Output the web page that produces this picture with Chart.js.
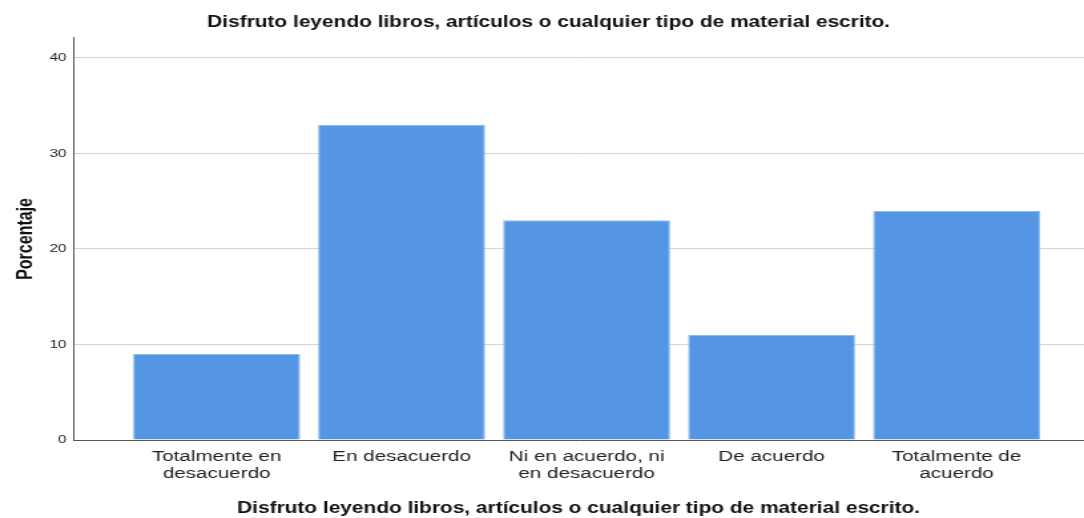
<!DOCTYPE html>
<html>
<head>
<meta charset="utf-8">
<script src="https://cdn.jsdelivr.net/npm/chart.js@4/dist/chart.umd.min.js"></script>
<style>
  html, body { margin: 0; padding: 0; background: #fff; overflow: hidden; }
  /* the reference is a horizontally stretched export, so draw narrow and stretch */
  #wrap { width: 815px; height: 518px; transform: scaleX(1.33006); transform-origin: 0 0; }
  #chart { display: block; }
</style>
</head>
<body>
<div id="wrap"><canvas id="chart" width="815" height="518"></canvas></div>
<script>
// values (percentages)
const categories = [
  ['Totalmente en', 'desacuerdo'],
  ['En desacuerdo'],
  ['Ni en acuerdo, ni', 'en desacuerdo'],
  ['De acuerdo'],
  ['Totalmente de', 'acuerdo']
];
const values = [9, 33, 23, 11, 24];
const yTicks = [0, 10, 20, 30, 40];
const titleText = 'Disfruto leyendo libros, artículos o cualquier tipo de material escrito.';

// bars sit on a linear x scale so the empty margin left of the first bar matches
const points = values.map((v, i) => ({ x: i + 1, y: v }));

const baseFont = 'Liberation Sans, Arial, sans-serif';

const ctx = document.getElementById('chart').getContext('2d');
new Chart(ctx, {
  type: 'bar',
  data: {
    datasets: [{
      data: points,
      backgroundColor: '#5596e4',
      borderColor: '#8dbaf0',
      borderWidth: 1,
      categoryPercentage: 1,
      barPercentage: 0.903
    }]
  },
  options: {
    responsive: false,
    animation: false,
    layout: { padding: { left: 10, right: 0, top: 0, bottom: 0 } },
    plugins: {
      legend: { display: false },
      tooltip: { enabled: false },
      title: {
        display: true,
        text: titleText,
        color: '#111',
        font: { family: baseFont, size: 15.7, weight: 'bold' },
        padding: { top: 13, bottom: 6 }
      }
    },
    scales: {
      x: {
        type: 'linear',
        offset: false,
        min: 0.2243,
        max: 5.689,
        afterBuildTicks: (scale) => {
          scale.ticks = categories.map((c, i) => ({ value: i + 1 }));
        },
        afterFit: (scale) => { scale.height = 78; },
        ticks: {
          autoSkip: false,
          maxRotation: 0,
          padding: 9,
          color: '#222',
          font: { family: baseFont, size: 15.5, lineHeight: 1.05 },
          callback: (v) => categories[v - 1]
        },
        grid: { display: false, drawTicks: false },
        border: { display: true, color: '#555', width: 1 },
        title: {
          display: true,
          text: titleText,
          color: '#111',
          font: { family: baseFont, size: 15.7, weight: 'bold' },
          padding: { top: 10, bottom: 0 }
        }
      },
      y: {
        min: 0,
        max: 42.1,
        afterBuildTicks: (scale) => {
          scale.ticks = yTicks.map(v => ({ value: v }));
        },
        afterFit: (scale) => { scale.width = 45; },
        ticks: {
          padding: 5,
          color: '#222',
          font: { family: baseFont, size: 11.5 }
        },
        grid: { color: '#d4d4d4', drawTicks: false, lineWidth: 1 },
        border: { display: true, color: '#555', width: 1 },
        title: {
          display: true,
          text: 'Porcentaje',
          color: '#111',
          font: { family: baseFont, size: 16, weight: 'bold' },
          padding: { top: 0, bottom: 4 }
        }
      }
    }
  }
});
</script>
</body>
</html>
